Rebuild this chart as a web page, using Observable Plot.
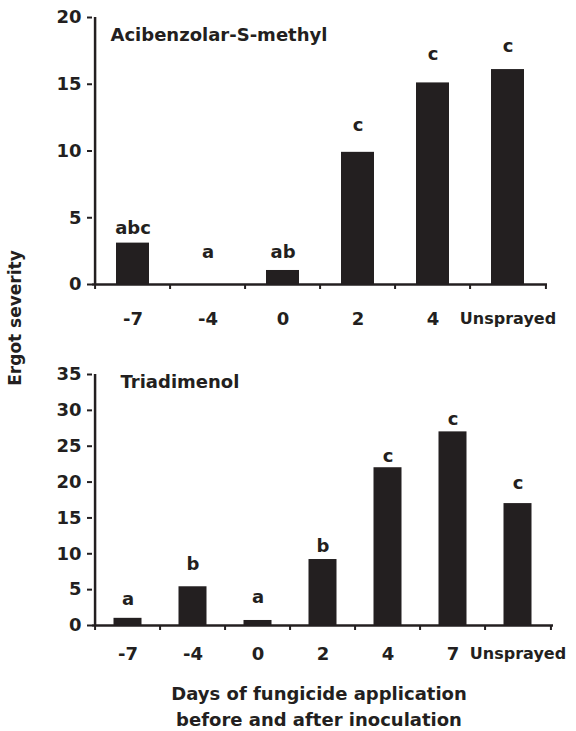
<!DOCTYPE html>
<html><head><meta charset="utf-8">
<script src="https://cdn.jsdelivr.net/npm/d3@7"></script>
<script src="https://cdn.jsdelivr.net/npm/@observablehq/plot@0.6"></script>
<style>
body{margin:0;background:#fff;}
#wrap{position:relative;width:576px;height:731px;font-family:"DejaVu Sans",sans-serif;font-weight:bold;color:#231f20;}
#wrap svg{display:block;}
#ylab{position:absolute;left:15px;top:318px;transform:translate(-50%,-50%) rotate(-90deg);white-space:nowrap;font-size:17px;}
</style></head><body>
<div id="wrap"><div id="ylab">Ergot severity</div></div>
<script>
// Panel 1: Acibenzolar-S-methyl
const acibenzolarDays = ["-7", "-4", "0", "2", "4", "Unsprayed"];
const acibenzolarSeverity = [3.1, 0, 1.05, 9.9, 15.1, 16.1];
const acibenzolarLetters = ["abc", "a", "ab", "c", "c", "c"];
const acibenzolarLetterHeight = [3.8, 2.0, 2.0, 11.5, 16.8, 17.4];
const acibenzolarTicks = [0, 5, 10, 15, 20];

// Panel 2: Triadimenol
const triadimenolDays = ["-7", "-4", "0", "2", "4", "7", "Unsprayed"];
const triadimenolSeverity = [1.0, 5.4, 0.7, 9.2, 22.0, 27.0, 17.0];
const triadimenolLetters = ["a", "b", "a", "b", "c", "c", "c"];
const triadimenolLetterHeight = [2.8, 7.7, 3.1, 10.2, 22.8, 28.0, 19.0];
const triadimenolTicks = [0, 5, 10, 15, 20, 25, 30, 35];

const yTitle = "Ergot severity";
const xTitle = "Days of fungicide application\nbefore and after inoculation";

const ink = "#231f20";
const font = '"DejaVu Sans", sans-serif';

function panel(o) {
  const W = 576, ml = 92;
  const bw = (W - ml - o.mr) / o.cats.length;
  const data = o.cats.map((c, i) => ({day: c, severity: o.vals[i], letter: o.letters[i], ly: o.letterY[i]}));
  const numeric = o.cats.filter(c => c !== "Unsprayed");
  const marks = [
    Plot.barY(data, {x: "day", y: "severity", fill: ink, insetLeft: o.inset, insetRight: o.inset}),
    Plot.ruleY([0], {stroke: ink, strokeWidth: 2.5}),
    Plot.ruleX([o.cats[0]], {x: d => d, y1: 0, y2: o.yMax, dx: -bw / 2, stroke: ink, strokeWidth: 2.5}),
    Plot.axisY({ticks: o.ticks, tickSize: 5, tickPadding: 6, fontSize: 18, strokeWidth: 2, label: null, tickFormat: d3.format("d")}),
    Plot.axisX({ticks: o.cats, tickSize: 5, strokeWidth: 2, dx: -bw / 2, tickFormat: () => "", label: null}),
    Plot.axisX({ticks: [o.cats[o.cats.length - 1]], tickSize: 5, strokeWidth: 2, dx: bw / 2, tickFormat: () => "", label: null}),
    Plot.axisX({ticks: numeric, tickSize: 0, tickPadding: o.labelPad, fontSize: 18, label: null}),
    Plot.axisX({ticks: ["Unsprayed"], tickSize: 0, tickPadding: o.labelPad, fontSize: 16, label: null}),
    Plot.text(data, {x: "day", y: "ly", text: "letter", lineAnchor: "bottom", fontSize: 18, fill: ink}),
    Plot.text([o.title], {frameAnchor: "top-left", textAnchor: "start", lineAnchor: "top", dx: o.titleDx, dy: o.titleDy, fontSize: 18, fill: ink})
  ];
  if (o.xTitle) {
    marks.push(Plot.text([o.xTitle], {frameAnchor: "bottom", lineAnchor: "top", dx: -4, dy: 57, lineHeight: 1.4, fontSize: 18, fill: ink}));
  }
  return Plot.plot({
    width: W, height: o.height,
    marginLeft: ml, marginRight: o.mr, marginTop: o.mt, marginBottom: o.mb,
    style: {fontFamily: font, fontWeight: "bold", color: ink, background: "white", overflow: "visible"},
    x: {type: "band", domain: o.cats, padding: 0, axis: null},
    y: {domain: [0, o.yMax], axis: null},
    marks
  });
}

const wrap = document.getElementById("wrap");
document.getElementById("ylab").textContent = yTitle;

wrap.appendChild(panel({
  cats: acibenzolarDays, vals: acibenzolarSeverity, letters: acibenzolarLetters, letterY: acibenzolarLetterHeight,
  ticks: acibenzolarTicks, yMax: 20, title: "Acibenzolar-S-methyl",
  height: 335, mt: 17, mb: 51, mr: 29, inset: 21, labelPad: 28, titleDx: 18, titleDy: 11
}));
wrap.appendChild(panel({
  cats: triadimenolDays, vals: triadimenolSeverity, letters: triadimenolLetters, letterY: triadimenolLetterHeight,
  ticks: triadimenolTicks, yMax: 35, title: "Triadimenol",
  height: 396, mt: 39, mb: 106, mr: 23, inset: 18.5, labelPad: 22, titleDx: 28, titleDy: 1,
  xTitle
}));
</script>
</body></html>
